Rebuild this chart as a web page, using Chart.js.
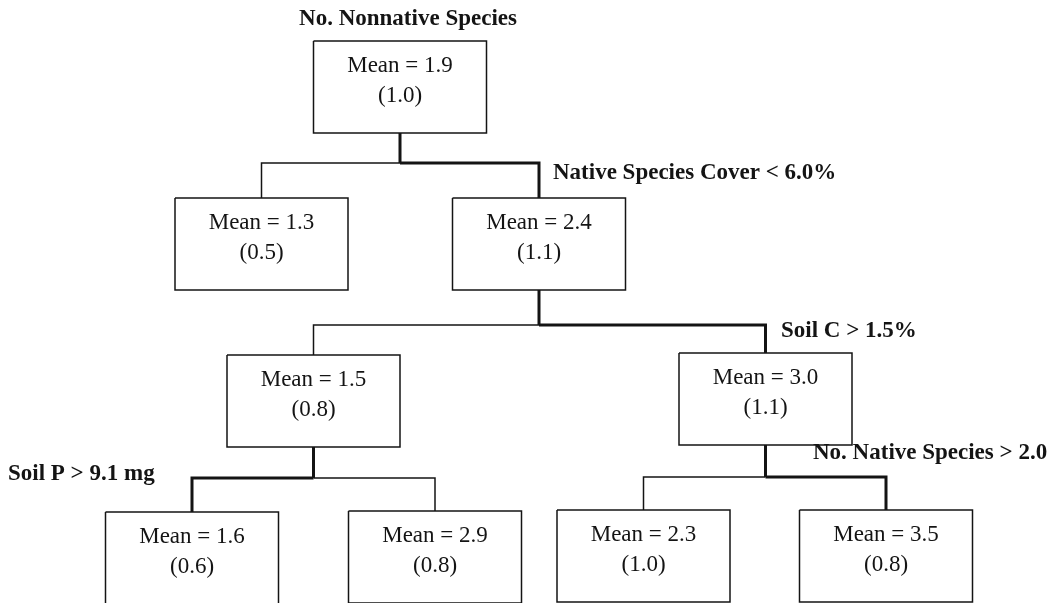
<!DOCTYPE html>
<html>
<head>
<meta charset="utf-8">
<script src="https://cdn.jsdelivr.net/npm/chart.js@4.4.0/dist/chart.umd.min.js"></script>
<style>
    html, body { margin: 0; padding: 0; background: #fff; }
    #wrap { width: 1057px; height: 603px; position: relative; }
</style>
</head>
<body>
<div id="wrap"><canvas id="treeChart"></canvas></div>
<script>
const chartTitle = 'No. Nonnative Species'
const nodeMeans = [1.9, 1.3, 2.4, 1.5, 3.0, 1.6, 2.9, 2.3, 3.5]
const nodeSDs = [1.0, 0.5, 1.1, 0.8, 1.1, 0.6, 0.8, 1.0, 0.8]
const nodeParents = [-1, 0, 0, 2, 2, 3, 3, 4, 4]
const splitNodes = [0, 2, 3, 4]
const splitLabels = ['Native Species Cover < 6.0%', 'Soil C > 1.5%', 'Soil P > 9.1 mg', 'No. Native Species > 2.0']
// child that meets the split, drawn as the bold branch
const splitChosen = [2, 4, 5, 8]

// layout in page units (x 0..1057, y 0..603 from the top)
const nodeCenterX = [400, 261.5, 539, 313.5, 765.5, 192, 435, 643.5, 886]
const nodeTopY = [41, 198, 198, 355, 353, 512, 511, 510, 510]
const branchY = [163, 325, 478, 477]
const labelAnchors = [[553, 179], [781, 337], [8, 480], [813, 459]]
const titleAnchor = [408, 25]
const boxW = 173
const boxH = 92

const ink = '#141414'
const thin = 1.5
const thick = 3

let datasets = []

// boxes
nodeMeans.forEach((m, i) => {
    let l = nodeCenterX[i] - boxW / 2, r = nodeCenterX[i] + boxW / 2
    let t = nodeTopY[i], b = nodeTopY[i] + boxH
    datasets.push({
        data: [{x: l, y: t}, {x: r, y: t}, {x: r, y: b}, {x: l, y: b}, {x: l, y: t}],
        showLine: true,
        borderColor: ink,
        borderWidth: thin,
        pointRadius: 0,
        fill: false,
        clip: false,
    })
})

// connectors
splitNodes.forEach((p, s) => {
    datasets.push({
        data: [{x: nodeCenterX[p], y: nodeTopY[p] + boxH}, {x: nodeCenterX[p], y: branchY[s]}],
        showLine: true,
        borderColor: ink,
        borderWidth: thick,
        pointRadius: 0,
        clip: false,
    })
    nodeParents.forEach((par, c) => {
        if (par !== p) {
            return
        }
        datasets.push({
            data: [
                {x: nodeCenterX[p], y: branchY[s]},
                {x: nodeCenterX[c], y: branchY[s]},
                {x: nodeCenterX[c], y: nodeTopY[c]},
            ],
            showLine: true,
            borderColor: ink,
            borderWidth: c === splitChosen[s] ? thick : thin,
            borderJoinStyle: 'miter',
            pointRadius: 0,
            clip: false,
        })
    })
})

const treeText = {
    id: 'treeText',
    afterDatasetsDraw (chart) {
        const ctx = chart.ctx
        const xs = chart.scales.x, ys = chart.scales.y
        ctx.save()
        ctx.fillStyle = ink
        ctx.textBaseline = 'alphabetic'

        ctx.font = 'bold 23px "Liberation Serif"'
        ctx.textAlign = 'center'
        ctx.fillText(chartTitle, xs.getPixelForValue(titleAnchor[0]), ys.getPixelForValue(titleAnchor[1]))

        ctx.textAlign = 'left'
        splitLabels.forEach((txt, i) => {
            ctx.fillText(txt, xs.getPixelForValue(labelAnchors[i][0]), ys.getPixelForValue(labelAnchors[i][1]))
        })

        ctx.font = '23px "Liberation Serif"'
        ctx.textAlign = 'center'
        nodeMeans.forEach((m, i) => {
            let cx = xs.getPixelForValue(nodeCenterX[i])
            ctx.fillText('Mean = ' + m.toFixed(1), cx, ys.getPixelForValue(nodeTopY[i] + 31))
            ctx.fillText('(' + nodeSDs[i].toFixed(1) + ')', cx, ys.getPixelForValue(nodeTopY[i] + 61))
        })
        ctx.restore()
    },
}

new Chart(document.getElementById('treeChart'), {
    type: 'scatter',
    data: {datasets: datasets},
    options: {
        responsive: true,
        maintainAspectRatio: false,
        animation: false,
        layout: {padding: 0},
        scales: {
            x: {type: 'linear', min: 0, max: 1057, display: false},
            y: {type: 'linear', min: 0, max: 603, reverse: true, display: false},
        },
        plugins: {
            legend: {display: false},
            tooltip: {enabled: false},
        },
    },
    plugins: [treeText],
})
</script>
</body>
</html>
